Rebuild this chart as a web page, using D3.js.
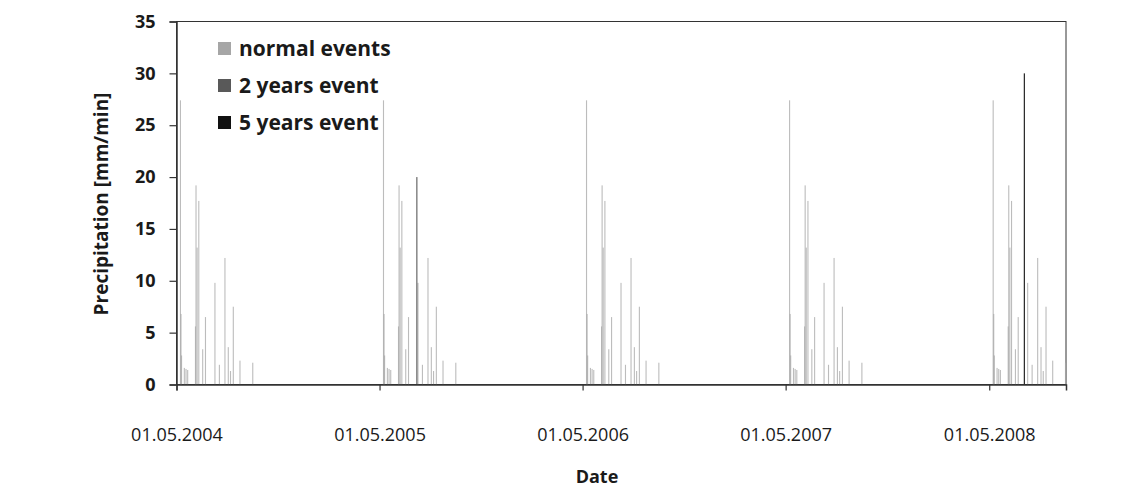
<!DOCTYPE html>
<html>
<head>
<meta charset="utf-8">
<script src="https://cdn.jsdelivr.net/npm/d3@7"></script>
<style>
  body { margin: 0; background: #fff; }
  svg text { font-family: "Open Sans", sans-serif; fill: #1a1a1a; }
</style>
</head>
<body>
<svg width="1138" height="488"></svg>
<script>
// season starts (the same event pattern repeats every season)
var seasonStarts = ["2004-05-01", "2005-05-01", "2006-05-01", "2007-05-01", "2008-05-01"];
// normal events: days after 1 May and intensity [mm/min]
var normalDays   = [7, 8, 9, 14, 17, 20, 34, 35, 37, 40, 47, 52, 69, 77, 87, 93, 97, 102, 114, 137];
var normalValues = [27.4, 6.8, 2.8, 1.6, 1.5, 1.4, 5.6, 19.2, 13.2, 17.7, 3.4, 6.5, 9.8, 1.9, 12.2, 3.6, 1.3, 7.5, 2.3, 2.1];
// extreme events
var twoYearDates  = ["2005-07-07"];
var twoYearValues = [20.0];
var fiveYearDates  = ["2008-07-03"];
var fiveYearValues = [30.0];

var xTickLabels = ["01.05.2004", "01.05.2005", "01.05.2006", "01.05.2007", "01.05.2008"];
var yTicks = [0, 5, 10, 15, 20, 25, 30, 35];
var legendNames = ["normal events", "2 years event", "5 years event"];
var colors = {normal: "#a6a6a6", two: "#595959", five: "#111111"};

(function() {
    var parse = d3.timeParse("%Y-%m-%d");
    var svg = d3.select("svg");
    var pLeft = 176.5, pRight = 1066, pTop = 21.5, pBottom = 384.5;

    var x = d3.scaleTime()
        .domain([parse("2004-05-01"), parse("2008-09-16")])
        .range([pLeft, pRight]);
    var y = d3.scaleLinear().domain([0, 35]).range([pBottom, pTop]);

    // build events list
    var events = [];
    seasonStarts.forEach(function(s) {
        var start = parse(s);
        for (var i = 0; i < normalDays.length; i++) {
            events.push({date: d3.timeDay.offset(start, normalDays[i]), value: normalValues[i], type: "normal"});
        }
    });
    twoYearDates.forEach(function(d, i) { events.push({date: parse(d), value: twoYearValues[i], type: "two"}); });
    fiveYearDates.forEach(function(d, i) { events.push({date: parse(d), value: fiveYearValues[i], type: "five"}); });

    // frame (top and right)
    svg.append("rect")
        .attr("x", pLeft).attr("y", pTop)
        .attr("width", pRight - pLeft).attr("height", pBottom - pTop)
        .attr("fill", "none").attr("stroke", "#333").attr("stroke-width", 1);

    // bars
    svg.append("g").selectAll("rect")
        .data(events)
      .enter().append("rect")
        .attr("x", function(d) { return x(d.date) - 0.5; })
        .attr("y", function(d) { return y(d.value); })
        .attr("width", 1.1)
        .attr("height", function(d) { return pBottom - y(d.value); })
        .attr("fill", function(d) { return colors[d.type]; })
        .attr("fill-opacity", function(d) { return d.type === "normal" ? 0.75 : 1; });

    // y axis
    var yAxis = svg.append("g")
        .attr("transform", "translate(" + pLeft + ",0)")
        .call(d3.axisLeft(y).tickValues(yTicks).tickSize(7).tickPadding(14));
    yAxis.select(".domain").attr("stroke", "#333").attr("stroke-width", 1.5);
    yAxis.selectAll(".tick line").attr("stroke", "#333").attr("stroke-width", 1.2);
    yAxis.selectAll("text")
        .attr("font-size", "18px").attr("font-weight", "bold")
        .style("font-family", "'Open Sans', sans-serif").attr("fill", "#1a1a1a");

    // x axis
    var xAxis = svg.append("g")
        .attr("transform", "translate(0," + pBottom + ")")
        .call(d3.axisBottom(x)
            .tickValues(seasonStarts.map(parse))
            .tickFormat(function(d, i) { return xTickLabels[i]; })
            .tickSize(6).tickPadding(38));
    xAxis.select(".domain").attr("stroke", "#333").attr("stroke-width", 1.5);
    xAxis.selectAll(".tick line").attr("stroke", "#333").attr("stroke-width", 1.2);
    xAxis.selectAll("text")
        .attr("font-size", "18px")
        .style("font-family", "'Open Sans', sans-serif").attr("fill", "#333");

    // axis titles
    svg.append("text")
        .attr("transform", "translate(108,204) rotate(-90)")
        .attr("text-anchor", "middle")
        .attr("font-size", "19px").attr("font-weight", "bold")
        .text("Precipitation [mm/min]");

    svg.append("text")
        .attr("x", 597).attr("y", 483)
        .attr("text-anchor", "middle")
        .attr("font-size", "18px").attr("font-weight", "bold")
        .text("Date");

    // legend
    var legend = svg.append("g").attr("transform", "translate(218,49)");
    var legendColors = [colors.normal, colors.two, colors.five];
    legendNames.forEach(function(name, i) {
        var g = legend.append("g").attr("transform", "translate(0," + (i * 37) + ")");
        g.append("rect").attr("x", 0).attr("y", -7).attr("width", 13).attr("height", 13)
            .attr("fill", legendColors[i]);
        g.append("text").attr("x", 21).attr("y", 0).attr("dy", "0.35em")
            .attr("font-size", "21px").attr("font-weight", "bold")
            .text(name);
    });
})();
</script>
</body>
</html>
